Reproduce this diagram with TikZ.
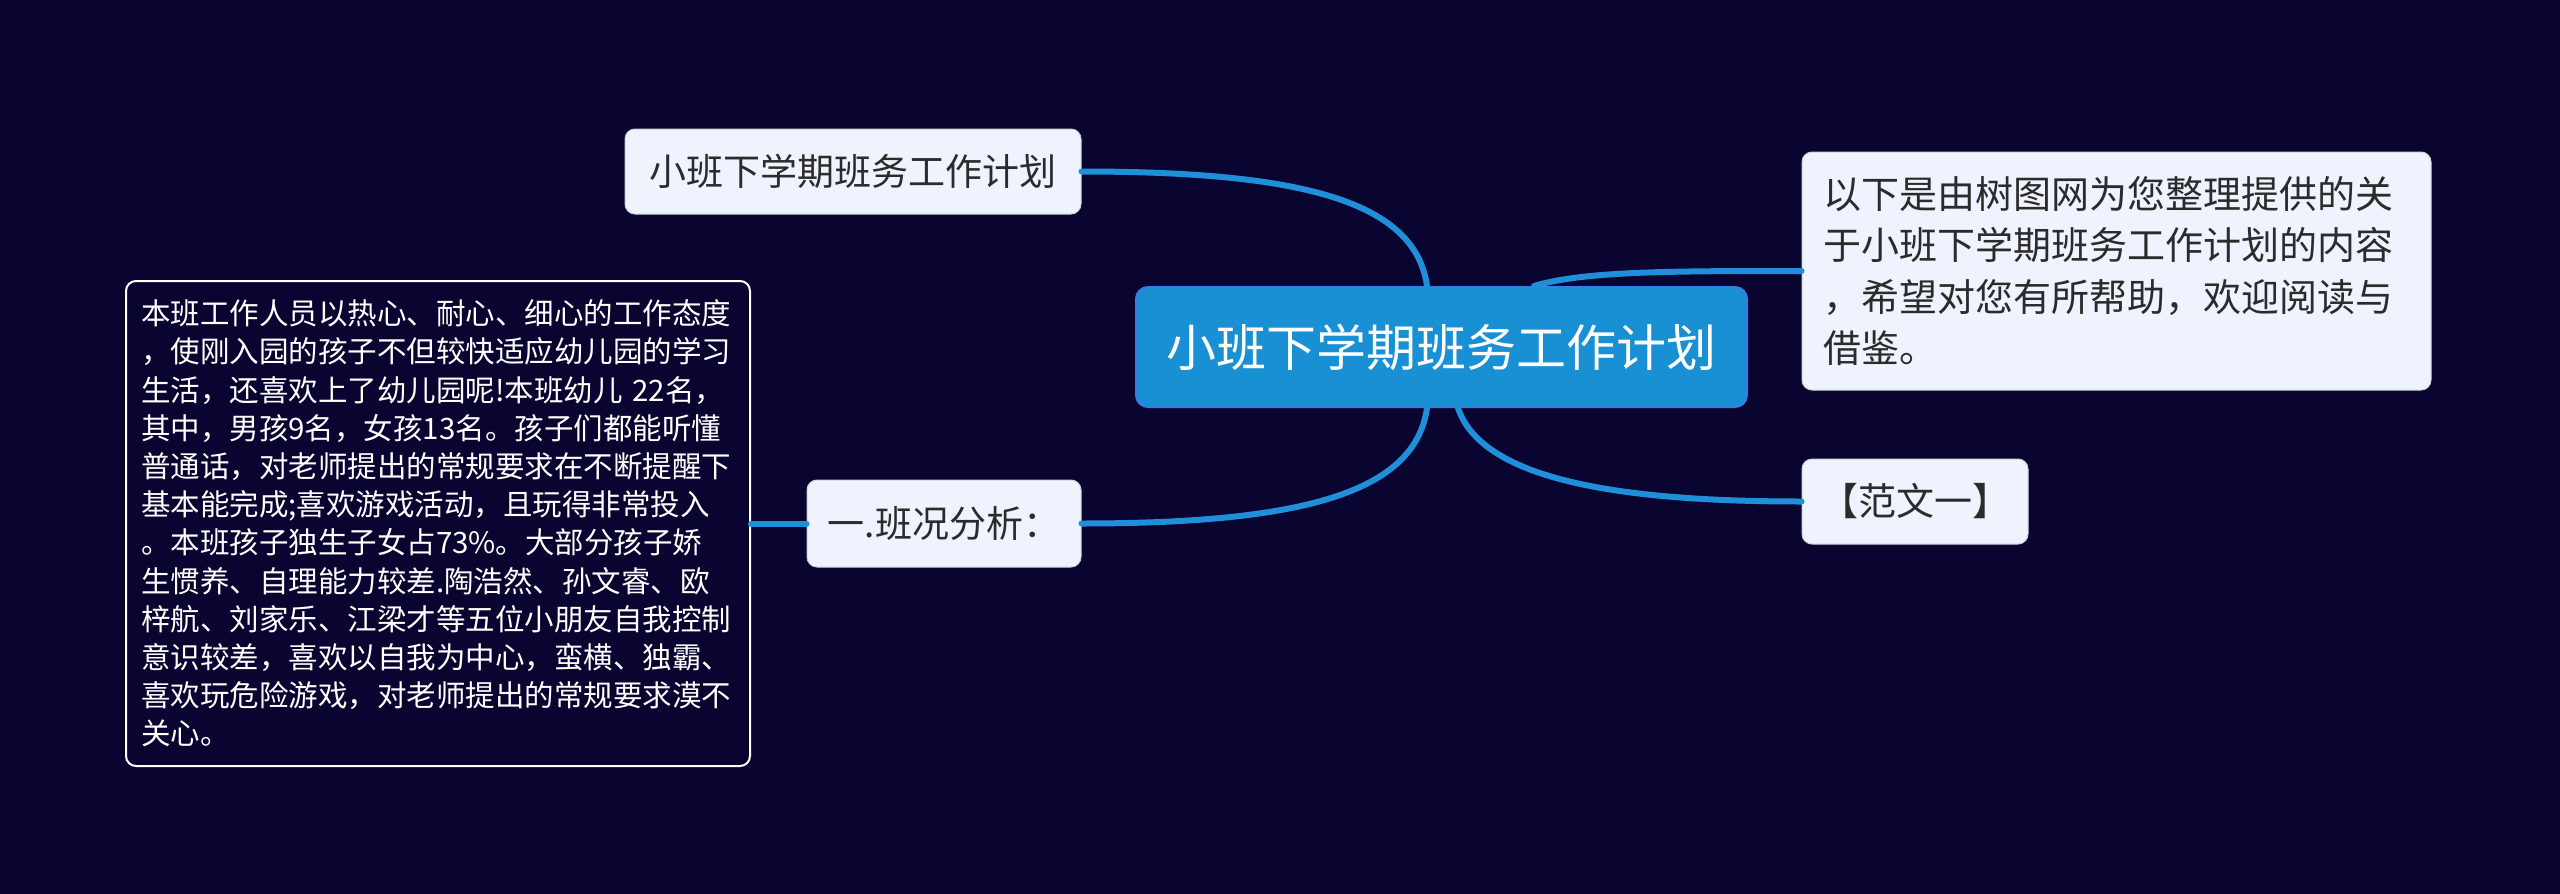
\documentclass[tikz,border=0pt]{standalone}
\usepackage{fontspec}
\setmainfont{Noto Sans CJK SC}
\definecolor{bgc}{HTML}{0A0530}
\definecolor{linec}{RGB}{30,143,216}
\definecolor{mainc}{RGB}{26,144,212}
\definecolor{mainb}{RGB}{55,125,232}
\definecolor{lightc}{HTML}{EEF3FD}
\definecolor{darkt}{HTML}{2B2B2B}
\begin{document}
\begin{tikzpicture}[x=1pt,y=-1pt,
  mainbox/.style={draw=mainb,line width=2pt,fill=mainc,text=white,rounded corners=12pt,
    minimum width=611pt,minimum height=120pt,inner sep=0pt,font=\fontsize{50}{60}\selectfont},
  subbox/.style={draw=lightc!70!gray,line width=1pt,fill=lightc,text=darkt,rounded corners=10pt,
    inner sep=0pt,font=\fontsize{37}{46}\selectfont},
  notebox/.style={draw=white,line width=2pt,fill=bgc,text=white,rounded corners=10pt,
    inner xsep=15pt,inner ysep=0pt,text width=594pt,minimum height=485pt,align=left,
    font=\fontsize{29.5}{38.2}\selectfont},
  infobox/.style={draw=lightc!70!gray,line width=1pt,fill=lightc,text=darkt,rounded corners=10pt,
    inner xsep=21pt,inner ysep=0pt,text width=587pt,minimum height=238pt,align=left,
    font=\fontsize{38}{51.5}\selectfont},
  conn/.style={draw=linec,line width=6pt,line cap=round}
]
\fill[bgc] (0,0) rectangle (2560,894);
\useasboundingbox (0,0) rectangle (2560,894);

\node[mainbox] (c) at (1441.5,347) {小班下学期班务工作计划};
\node[subbox,minimum width=456pt,minimum height=85pt] (tl) at (853,171.5) {小班下学期班务工作计划};
\node[subbox,minimum width=274pt,minimum height=87pt] (bl) at (944,523.5) {一.班况分析：};
\node[notebox] (note) at (438,523.5) {本班工作人员以热心、耐心、细心的工作态度\\
，使刚入园的孩子不但较快适应幼儿园的学习\\
生活，还喜欢上了幼儿园呢!本班幼儿 22名，\\
其中，男孩9名，女孩13名。孩子们都能听懂\\
普通话，对老师提出的常规要求在不断提醒下\\
基本能完成;喜欢游戏活动，且玩得非常投入\\
。本班孩子独生子女占73\%。大部分孩子娇\\
生惯养、自理能力较差.陶浩然、孙文睿、欧\\
梓航、刘家乐、江梁才等五位小朋友自我控制\\
意识较差，喜欢以自我为中心，蛮横、独霸、\\
喜欢玩危险游戏，对老师提出的常规要求漠不\\
关心。};
\node[infobox] (rt) at (2116.5,271) {以下是由树图网为您整理提供的关\\
于小班下学期班务工作计划的内容\\
，希望对您有所帮助，欢迎阅读与\\
借鉴。};
\node[subbox,minimum width=226pt,minimum height=85pt,font=\fontsize{38}{46}\selectfont] (fw) at (1915,501.5) {【范文一】};

\draw[conn] (tl.east) .. controls +(220,0) and +(-12,-85) .. ([xshift=-14.5pt]c.north);
\draw[conn] (bl.east) .. controls +(220,0) and +(-12,85) .. ([xshift=-14.5pt]c.south);
\draw[conn] ([xshift=92.5pt]c.north) .. controls +(50,-15) and +(-130,0) .. (rt.west);
\draw[conn] ([xshift=16.5pt]c.south) .. controls +(25,75) and +(-170,0) .. (fw.west);
\draw[conn] (note.east) -- (bl.west);
\end{tikzpicture}
\end{document}
